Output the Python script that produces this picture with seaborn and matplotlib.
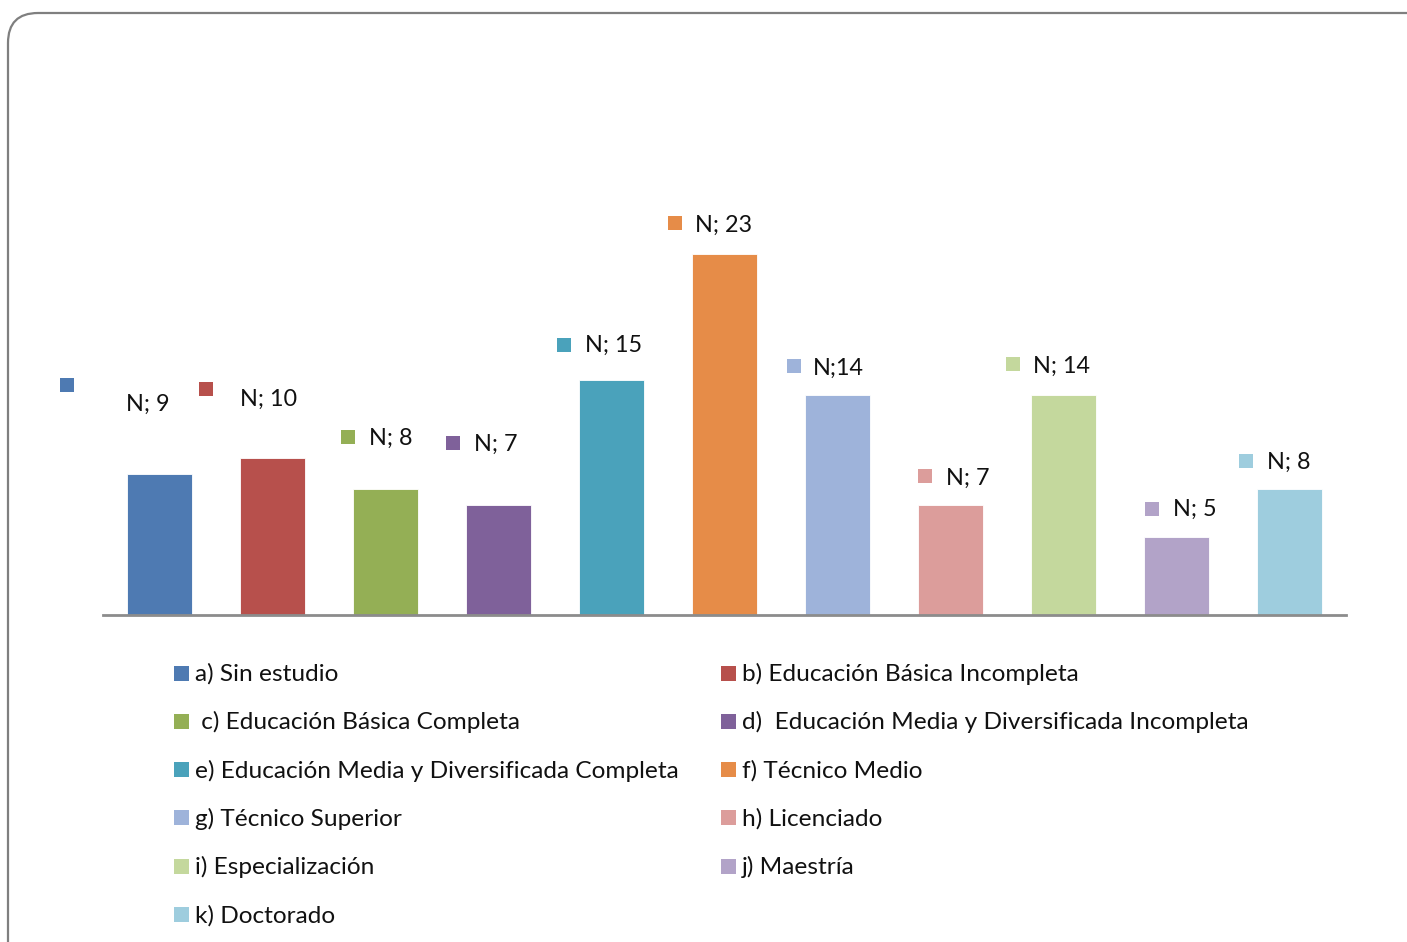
import matplotlib
matplotlib.use("Agg")
import matplotlib.pyplot as plt
import seaborn as sns
import pandas as pd
from matplotlib.transforms import offset_copy, IdentityTransform
from matplotlib.patches import FancyBboxPatch, Rectangle

categories = ["a) Sin estudio", "b) Educación Básica Incompleta", " c) Educación Básica Completa",
              "d)  Educación Media y Diversificada Incompleta", "e) Educación Media y Diversificada Completa",
              "f) Técnico Medio", "g) Técnico Superior", "h) Licenciado", "i) Especialización",
              "j) Maestría", "k) Doctorado"]
values = [9, 10, 8, 7, 15, 23, 14, 7, 14, 5, 8]
value_labels = ["N; 9", "N; 10", "N; 8", "N; 7", "N; 15", "N; 23", "N;14", "N; 7", "N; 14", "N; 5", "N; 8"]
colors = ["#4E7AB2", "#B7504C", "#94AF55", "#7F619A", "#4AA2BB", "#E68C48",
          "#9EB3DA", "#DC9D9B", "#C4D89D", "#B2A3C8", "#9ECDDE"]

# label placement (pixel offsets from bar top centre): text centre and square centre
text_off = [(-12, 69), (-4, 59), (5, 51), (-3, 61), (2, 34), (-1, 29), (1, 27), (17, 27), (-2, 29), (18, 27), (-1, 27)]
sq_off = [(-93, 89), (-67, 69), (-38, 52), (-46, 62), (-48, 35), (-50, 31), (-44, 29), (-26, 29), (-51, 31), (-25, 28), (-44, 28)]

sns.set_theme(style="white")
plt.rcParams['font.family'] = ['Lato', 'DejaVu Sans']

W, H = 1407, 942
fig = plt.figure(figsize=(W / 100, H / 100), dpi=100)
ax = fig.add_axes([103 / W, (H - 615) / H, (1346 - 103) / W, (615 - 144) / H])

df = pd.DataFrame({"cat": categories, "val": values})
sns.barplot(data=df, x="cat", y="val", hue="cat", order=categories, hue_order=categories,
            palette=colors, width=0.57, legend=False, ax=ax, saturation=1,
            edgecolor="white", linewidth=0.6)
ax.set_xlim(-0.5, len(categories) - 0.5)
ax.set_ylim(0, 30)
ax.set_xticks([])
ax.set_yticks([])
ax.set_xlabel("")
ax.set_ylabel("")
for s in ["top", "left", "right"]:
    ax.spines[s].set_visible(False)
ax.spines["bottom"].set_color("#8C8C8C")
ax.spines["bottom"].set_linewidth(2)

for i, (v, lab) in enumerate(zip(values, value_labels)):
    tdx, tdy = text_off[i]
    sdx, sdy = sq_off[i]
    ax.annotate(lab, xy=(i, v), xytext=(tdx, tdy), textcoords="offset pixels",
                ha="center", va="center", fontsize=16.8, color="#111111", annotation_clip=False)
    tr = offset_copy(ax.transData, fig=fig, x=sdx, y=sdy, units="dots")
    ax.plot([i], [v], marker="s", ms=10.5, color=colors[i], transform=tr, clip_on=False, mew=0)

# legend (two columns, row-major)
for k, (cat, col) in enumerate(zip(categories, colors)):
    row, c = divmod(k, 2)
    x0 = [174, 721][c]
    yc = 673 + row * 48.3
    fig.patches.append(Rectangle((x0, H - yc - 7.5), 15, 15, transform=IdentityTransform(),
                                 facecolor=col, edgecolor="none"))
    fig.text((x0 + 21) / W, (H - yc - 1) / H, cat, ha="left", va="center", fontsize=17.6, color="#111111")

# rounded frame
fig.patches.append(FancyBboxPatch((8, -60), 1460, H - 13 + 60, boxstyle="round,pad=0,rounding_size=30",
                                  transform=IdentityTransform(), facecolor="none",
                                  edgecolor="#7F7F7F", linewidth=1.6))

fig.savefig("out.png", dpi=100)
